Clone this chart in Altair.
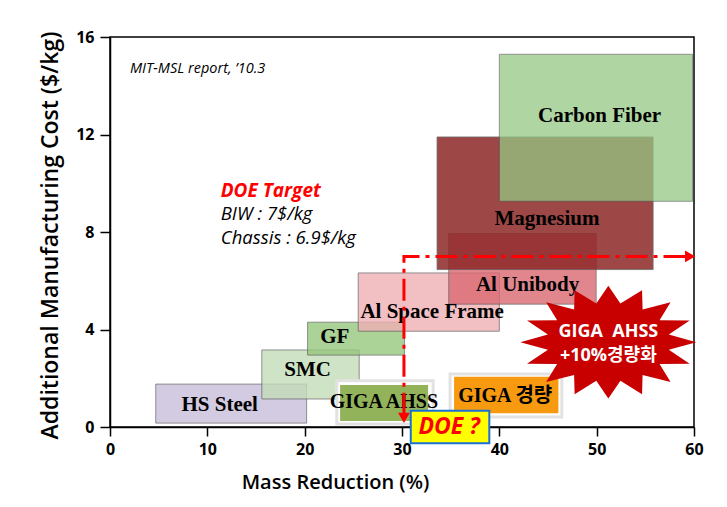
import math
import altair as alt
import pandas as pd

# ---------------- data ----------------
materials = ["HS Steel", "SMC", "GF", "Al Space Frame", "Al Unibody", "Magnesium", "Carbon Fiber"]
mass_lo = [4.7, 15.6, 20.3, 25.5, 34.8, 33.6, 40.0]
mass_hi = [20.2, 25.6, 30.25, 40.0, 49.95, 55.8, 59.85]
cost_lo = [0.16, 1.15, 2.95, 3.93, 5.04, 6.46, 9.26]
cost_hi = [1.76, 3.16, 4.3, 6.32, 7.94, 11.9, 15.29]
box_fill = ["#c9bfdb", "#c4ddb8", "#97c77e", "#efb0b5", "#db6872", "#8d2828", "#94c783"]
box_alpha = [0.8, 0.8, 0.8, 0.8, 0.8, 0.85, 0.75]
label_mass = [11.27, 20.3, 23.1, 33.1, 42.9, 44.9, 50.3]
label_cost = [0.9, 2.34, 3.68, 4.73, 5.82, 8.55, 12.75]

giga_names = ["GIGA AHSS", "GIGA 경량"]
giga_mass_lo = [23.64, 35.35]
giga_mass_hi = [32.68, 46.07]
giga_cost_lo = [0.25, 0.56]
giga_cost_hi = [1.72, 2.06]
glow_mass_lo = [23.3, 34.94]
glow_mass_hi = [33.2, 46.42]
glow_cost_lo = [0.12, 0.41]
glow_cost_hi = [1.9, 2.17]
giga_fill = ["#93b35b", "#f79a10"]
giga_label_mass = [28.14, 40.6]
giga_label_cost = [1.04, 1.28]

target_mass = [30.2, 30.2, 59.1]
target_cost = [0.5, 7.0, 7.0]
arrow_mass = [30.2, 59.6]
arrow_cost = [0.37, 7.0]
arrow_shape = ["triangle-down", "triangle-right"]

doe_mass = [30.9, 38.97]
doe_cost = [-0.67, 0.67]
doe_label = "DOE ?"
doe_label_pos = [34.84, 0.0]

burst_pos = [51.2, 3.48]
burst_lines = ["GIGA\u00a0 AHSS", "+10%경량화"]
burst_line_cost = [3.9, 2.91]

source_note = "MIT-MSL report, \u201910.3"
source_pos = [2.05, 14.67]
target_title = "DOE Target"
target_title_pos = [11.38, 9.7]
target_lines = ["BIW : 7$/kg", "Chassis : 6.9$/kg"]
target_lines_cost = [8.73, 7.74]

x_ticks = [0, 10, 20, 30, 40, 50, 60]
y_ticks = [0, 4, 8, 12, 16]

# ---------------- helpers ----------------
xscale = alt.Scale(domain=[0, 60], nice=False, zero=False)
yscale = alt.Scale(domain=[0, 16], nice=False, zero=False)
axis_x = alt.Axis(values=x_ticks, title="Mass Reduction (%)", grid=False, labelFlush=False,
                  tickSize=9, labelPadding=5, titleX=225, titleY=61,
                  titleAlign="center", titleBaseline="alphabetic", titleFontSize=20)
axis_y = alt.Axis(values=y_ticks, title="Additional Manufacturing Cost ($/kg)", grid=False, labelFlush=False,
                  tickSize=10, labelPadding=6, titleX=-53, titleY=198, titleAngle=-90,
                  titleAlign="center", titleBaseline="alphabetic", titleFontSize=23)


def X(f):
    return alt.X(f"{f}:Q", scale=xscale, axis=axis_x)


def Y(f):
    return alt.Y(f"{f}:Q", scale=yscale, axis=axis_y)


boxes = pd.DataFrame({"name": materials, "x0": mass_lo, "x1": mass_hi, "y0": cost_lo, "y1": cost_hi,
                      "fill": box_fill, "alpha": box_alpha, "lx": label_mass, "ly": label_cost,
                      "o": list(range(len(materials)))})
giga = pd.DataFrame({"name": giga_names, "x0": giga_mass_lo, "x1": giga_mass_hi, "y0": giga_cost_lo,
                     "y1": giga_cost_hi, "gx0": glow_mass_lo, "gx1": glow_mass_hi, "gy0": glow_cost_lo,
                     "gy1": glow_cost_hi, "fill": giga_fill, "lx": giga_label_mass, "ly": giga_label_cost})
target = pd.DataFrame({"x": target_mass, "y": target_cost, "o": [0, 1, 2]})
arrows = pd.DataFrame({"x": arrow_mass, "y": arrow_cost, "shape": arrow_shape})
doe = pd.DataFrame({"x0": [doe_mass[0]], "x1": [doe_mass[1]], "y0": [doe_cost[0]], "y1": [doe_cost[1]],
                    "lx": [doe_label_pos[0]], "ly": [doe_label_pos[1]], "t": [doe_label]})
burst = pd.DataFrame({"x": [burst_pos[0]], "y": [burst_pos[1]]})
burst_text = pd.DataFrame({"x": [burst_pos[0]] * 2, "y": burst_line_cost, "t": burst_lines})
src_df = pd.DataFrame({"x": [source_pos[0]], "y": [source_pos[1]], "t": [source_note]})
tt_df = pd.DataFrame({"x": [target_title_pos[0]], "y": [target_title_pos[1]], "t": [target_title]})
tl_df = pd.DataFrame({"x": [target_title_pos[0]] * 2, "y": target_lines_cost, "t": target_lines})

# star burst shape (unit box path)
n_spikes = 16
pts = []
for i in range(2 * n_spikes):
    a = math.pi * i / n_spikes
    r = 1.0 if i % 2 == 0 else 0.7
    pts.append(f"{r * math.cos(a):.3f},{-r * math.sin(a) * 0.64:.3f}")
star_path = "M" + "L".join(pts) + "Z"

# ---------------- layers ----------------
rects = alt.Chart(boxes).mark_rect(stroke="#555555", strokeWidth=1, strokeOpacity=0.8).encode(
    x=X("x0"), x2="x1", y=Y("y0"), y2="y1",
    fill=alt.Fill("fill:N", scale=None),
    opacity=alt.Opacity("alpha:Q", scale=None),
    order=alt.Order("o:Q"),
)

glow = alt.Chart(giga).mark_rect(fill="white", stroke="#e2e2e2", strokeWidth=3).encode(
    x=X("gx0"), x2="gx1", y=Y("gy0"), y2="gy1")

giga_rects = alt.Chart(giga).mark_rect().encode(
    x=X("x0"), x2="x1", y=Y("y0"), y2="y1", fill=alt.Fill("fill:N", scale=None))

labels = alt.Chart(boxes).mark_text(font="Liberation Serif", fontWeight="bold", fontSize=21,
                                    color="black", baseline="middle").encode(
    x=X("lx"), y=Y("ly"), text="name:N")

giga_labels = alt.Chart(giga).mark_text(font="Liberation Serif, Noto Sans CJK KR", fontWeight="bold",
                                        fontSize=20, color="black", baseline="middle").encode(
    x=X("lx"), y=Y("ly"), text="name:N")

line = alt.Chart(target).mark_line(color="#ff0000", strokeWidth=3, strokeDash=[22, 6, 4, 6]).encode(
    x=X("x"), y=Y("y"), order="o:Q")

heads = alt.Chart(arrows).mark_point(filled=True, color="#ff0000", size=140, opacity=1).encode(
    x=X("x"), y=Y("y"), shape=alt.Shape("shape:N", scale=None))

doe_box = alt.Chart(doe).mark_rect(fill="#ffff00", stroke="#1a6fd6", strokeWidth=2).encode(
    x=X("x0"), x2="x1", y=Y("y0"), y2="y1")

doe_text = alt.Chart(doe).mark_text(font="Open Sans", fontWeight="bold", fontStyle="italic",
                                    fontSize=23, color="#ff0000", baseline="middle").encode(
    x=X("lx"), y=Y("ly"), text="t:N")

star = alt.Chart(burst).mark_point(shape=star_path, filled=True, fill="#c80000", size=30976,
                                   opacity=1, strokeWidth=0).encode(x=X("x"), y=Y("y"))

star_text = alt.Chart(burst_text).mark_text(font="Open Sans, Noto Sans CJK KR", fontWeight="bold",
                                            fontSize=18, color="white", baseline="middle").encode(
    x=X("x"), y=Y("y"), text="t:N")

src_text = alt.Chart(src_df).mark_text(font="Open Sans", fontStyle="italic", fontSize=14.5, align="left",
                                       baseline="middle", color="black").encode(
    x=X("x"), y=Y("y"), text="t:N")
tt_text = alt.Chart(tt_df).mark_text(font="Open Sans", fontStyle="italic", fontWeight="bold", fontSize=19,
                                     align="left", baseline="middle", color="#ff0000").encode(
    x=X("x"), y=Y("y"), text="t:N")
tl_text = alt.Chart(tl_df).mark_text(font="Open Sans", fontStyle="italic", fontSize=18.5, align="left",
                                     baseline="middle", color="black").encode(
    x=X("x"), y=Y("y"), text="t:N")

chart = alt.layer(
    rects, glow, giga_rects, labels, giga_labels, line, heads, doe_box, doe_text, star, star_text,
    src_text, tt_text, tl_text,
).properties(
    width=584, height=390,
    autosize=alt.AutoSizeParams(type="none"),
    padding={"left": 102, "top": 29, "right": 20, "bottom": 70},
).configure_view(
    stroke="black", strokeWidth=1.5
).configure_axis(
    domainColor="black", domainWidth=1.5, tickColor="black", tickWidth=1.5,
    labelColor="black", titleColor="black", labelFont="Open Sans", labelFontWeight="bold",
    labelFontSize=16, titleFont="Open Sans", titleFontWeight=600,
)

chart.save("out.html", embed_options={"renderer": "svg", "actions": False})
